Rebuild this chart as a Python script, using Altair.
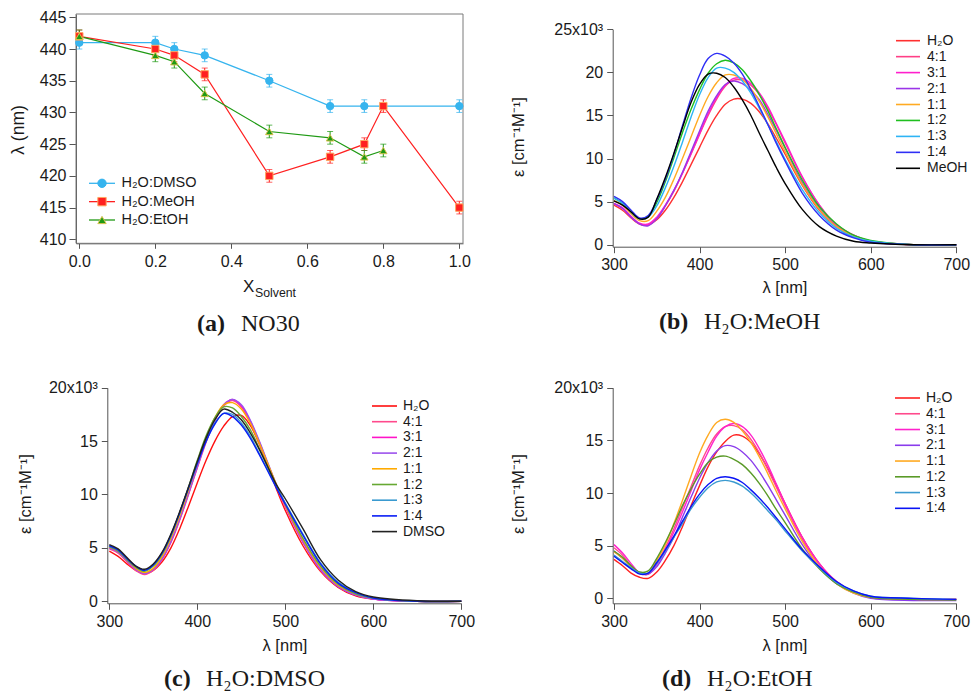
import altair as alt
import pandas as pd

# ---------------------------------------------------------------- data
# (a) absorption maximum of NO30 versus solvent mole fraction
x_dmso = [0.0, 0.2, 0.25, 0.33, 0.5, 0.66, 0.75, 1.0]
lam_dmso = [441, 441, 440, 439, 435, 431, 431, 431]
err_dmso = [1, 1, 1, 1, 1, 1, 1, 1]

x_meoh = [0.0, 0.2, 0.25, 0.33, 0.5, 0.66, 0.75, 0.8, 1.0]
lam_meoh = [442, 440, 439, 436, 420, 423, 425, 431, 415]
err_meoh = [1, 1, 1, 1, 1, 1, 1, 1, 1]

x_etoh = [0.0, 0.2, 0.25, 0.33, 0.5, 0.66, 0.75, 0.8]
lam_etoh = [442, 439, 438, 433, 427, 426, 423, 424]
err_etoh = [1, 1, 1, 1, 1, 1, 1, 1]

mix_names = ["H₂O:DMSO", "H₂O:MeOH", "H₂O:EtOH"]
mix_colors = ["#36b4ee", "#ff2020", "#1f9a14"]
mix_edges = ["#36b4ee", "#ffa860", "#d6c04c"]
mix_shapes = ["circle", "square", "triangle-up"]

# wavelength grid of the spectra (nm); extinction coefficients in 10^3 cm^-1 M^-1
wl = [300, 310, 320, 330, 340, 350, 360, 370, 380, 390, 400, 410, 420, 430,
      440, 450, 460, 470, 480, 490, 500, 520, 540, 560, 580, 600, 650, 700]

# (b) H2O:MeOH
meoh_h2o = [4.6, 4.0, 3.1, 2.4, 2.3, 2.9, 4.0, 5.5, 7.3, 9.3, 11.3, 13.3, 15.0, 16.3,
            16.9, 16.9, 16.4, 15.4, 14.0, 12.3, 10.5, 6.9, 4.0, 2.1, 0.9, 0.4, 0.0, 0.0]
meoh_41 = [4.7, 4.2, 3.2, 2.4, 2.3, 3.1, 4.5, 6.2, 8.3, 10.5, 12.8, 15.0, 16.9, 18.4,
           19.1, 19.1, 18.5, 17.4, 15.8, 13.9, 11.8, 7.8, 4.6, 2.3, 1.1, 0.4, 0.0, 0.0]
meoh_31 = [4.8, 4.3, 3.3, 2.5, 2.4, 3.2, 4.6, 6.3, 8.3, 10.6, 12.9, 15.2, 17.1, 18.5,
           19.3, 19.3, 18.7, 17.6, 16.0, 14.0, 12.0, 7.9, 4.6, 2.3, 1.1, 0.4, 0.0, 0.0]
meoh_21 = [4.8, 4.2, 3.2, 2.4, 2.2, 3.0, 4.5, 6.3, 8.4, 10.8, 13.2, 15.5, 17.3, 18.6,
           19.0, 18.7, 17.9, 16.8, 15.1, 13.2, 11.2, 7.2, 4.2, 2.1, 0.9, 0.3, 0.0, 0.0]
meoh_11 = [5.1, 4.6, 3.6, 2.8, 2.8, 3.9, 5.5, 7.6, 10.0, 12.5, 15.0, 17.2, 18.8, 19.7,
           19.7, 19.2, 18.1, 16.6, 14.8, 12.8, 10.8, 7.0, 4.1, 2.1, 1.0, 0.4, 0.0, 0.0]
meoh_12 = [5.4, 4.8, 3.8, 3.0, 3.3, 4.9, 7.3, 10.1, 13.0, 15.7, 18.0, 19.9, 21.0, 21.4,
           21.1, 20.3, 19.0, 17.4, 15.5, 13.4, 11.3, 7.5, 4.4, 2.4, 1.1, 0.5, 0.0, 0.0]
meoh_13 = [5.4, 4.8, 3.8, 3.0, 3.2, 4.5, 6.6, 9.1, 11.9, 14.8, 17.4, 19.4, 20.5, 20.5,
           20.0, 19.0, 17.6, 15.8, 13.9, 11.9, 9.9, 6.4, 3.7, 1.9, 0.9, 0.4, 0.0, 0.0]
meoh_14 = [5.6, 5.0, 4.0, 3.1, 3.4, 5.2, 7.6, 10.5, 13.8, 17.0, 19.7, 21.6, 22.2, 21.9,
           21.1, 19.8, 18.0, 16.0, 13.9, 11.7, 9.7, 6.0, 3.4, 1.7, 0.8, 0.3, 0.0, 0.0]
meoh_neat = [5.1, 4.6, 3.8, 3.0, 3.2, 5.3, 7.8, 10.6, 13.6, 16.5, 18.6, 19.8, 19.9, 19.4,
             18.3, 16.8, 15.0, 12.9, 10.9, 8.9, 7.1, 4.1, 2.1, 1.0, 0.4, 0.2, 0.0, 0.0]
meoh_labels = ["H₂O", "4:1", "3:1", "2:1", "1:1", "1:2", "1:3", "1:4", "MeOH"]
meoh_colors = ["#ff3030", "#ff3f86", "#ff1fcc", "#9b35e8", "#ffaa22",
               "#1fbf1f", "#2eb4f5", "#2f2ff5", "#000000"]
meoh_series = [meoh_h2o, meoh_41, meoh_31, meoh_21, meoh_11, meoh_12, meoh_13, meoh_14, meoh_neat]

# (c) H2O:DMSO
dmso_h2o = [4.7, 4.2, 3.5, 2.9, 2.6, 2.9, 3.7, 5.0, 6.8, 8.9, 11.1, 13.2, 15.0, 16.4,
            17.3, 17.4, 16.5, 14.8, 12.7, 10.5, 8.5, 5.2, 2.8, 1.3, 0.5, 0.2, 0.0, 0.0]
dmso_41 = [4.9, 4.5, 3.7, 2.9, 2.5, 2.9, 3.9, 5.5, 7.6, 10.0, 12.5, 14.9, 16.9, 18.3,
           18.8, 18.2, 16.8, 14.9, 12.8, 10.7, 8.8, 5.5, 2.9, 1.4, 0.6, 0.2, 0.0, 0.0]
dmso_31 = [5.0, 4.6, 3.8, 3.0, 2.6, 3.0, 4.0, 5.6, 7.7, 10.1, 12.6, 15.0, 17.0, 18.4,
           18.9, 18.3, 16.9, 15.0, 12.9, 10.8, 8.9, 5.6, 3.0, 1.4, 0.6, 0.2, 0.0, 0.0]
dmso_21 = [5.0, 4.6, 3.8, 3.0, 2.6, 3.0, 4.0, 5.6, 7.7, 10.1, 12.6, 15.0, 17.0, 18.4,
           18.9, 18.4, 17.0, 15.1, 13.0, 10.9, 9.0, 5.6, 3.0, 1.4, 0.6, 0.2, 0.0, 0.0]
dmso_11 = [5.1, 4.7, 3.9, 3.1, 2.7, 3.1, 4.2, 5.9, 8.0, 10.4, 12.9, 15.3, 17.2, 18.4,
           18.6, 18.0, 16.7, 14.9, 12.9, 10.9, 9.0, 5.8, 3.2, 1.5, 0.7, 0.3, 0.0, 0.0]
dmso_12 = [5.1, 4.7, 3.9, 3.2, 2.8, 3.3, 4.4, 6.1, 8.3, 10.7, 13.2, 15.5, 17.2, 18.2,
           18.1, 17.3, 16.1, 14.4, 12.6, 10.8, 9.1, 5.9, 3.3, 1.6, 0.7, 0.3, 0.0, 0.0]
dmso_13 = [5.2, 4.8, 4.0, 3.3, 2.9, 3.4, 4.5, 6.2, 8.3, 10.6, 12.9, 15.0, 16.7, 17.6,
           17.5, 16.7, 15.5, 13.9, 12.3, 10.7, 9.2, 6.3, 3.6, 1.8, 0.8, 0.3, 0.0, 0.0]
dmso_14 = [5.2, 4.8, 4.0, 3.3, 2.9, 3.4, 4.5, 6.2, 8.3, 10.6, 12.9, 15.0, 16.6, 17.6,
           17.3, 16.5, 15.3, 13.8, 12.2, 10.6, 9.1, 6.2, 3.5, 1.7, 0.8, 0.3, 0.0, 0.0]
dmso_neat = [5.3, 4.9, 4.1, 3.3, 3.0, 3.5, 4.6, 6.3, 8.4, 10.7, 13.1, 15.3, 17.0, 18.0,
             17.7, 17.0, 15.8, 14.3, 12.6, 10.9, 9.6, 6.8, 3.9, 2.0, 0.9, 0.4, 0.05, 0.0]
dmso_labels = ["H₂O", "4:1", "3:1", "2:1", "1:1", "1:2", "1:3", "1:4", "DMSO"]
dmso_colors = ["#ff1010", "#ff4a8c", "#ff14c8", "#9c52ec", "#ffaa00",
               "#66a832", "#3a9ad0", "#0a1ef5", "#222222"]
dmso_series = [dmso_h2o, dmso_41, dmso_31, dmso_21, dmso_11, dmso_12, dmso_13, dmso_14, dmso_neat]

# (d) H2O:EtOH
etoh_h2o = [3.7, 3.1, 2.4, 2.0, 1.9, 2.5, 3.6, 5.0, 6.8, 8.8, 10.7, 12.5, 13.9, 14.9,
            15.5, 15.4, 14.8, 13.7, 12.3, 10.7, 9.0, 5.8, 3.3, 1.6, 0.6, 0.1, -0.1, -0.1]
etoh_41 = [4.8, 4.1, 3.1, 2.4, 2.3, 3.3, 4.8, 6.6, 8.6, 10.6, 12.6, 14.3, 15.6, 16.3,
           16.4, 16.0, 15.1, 13.8, 12.2, 10.5, 8.8, 5.6, 3.2, 1.5, 0.6, 0.1, -0.1, -0.1]
etoh_31 = [5.1, 4.3, 3.3, 2.4, 2.3, 3.2, 4.6, 6.3, 8.2, 10.2, 12.2, 13.9, 15.4, 16.3,
           16.6, 16.3, 15.5, 14.2, 12.6, 10.8, 9.0, 5.8, 3.3, 1.6, 0.6, 0.1, -0.1, -0.1]
etoh_21 = [4.5, 3.8, 3.0, 2.4, 2.3, 3.0, 4.3, 5.8, 7.7, 9.6, 11.4, 12.9, 14.0, 14.5,
           14.4, 13.9, 13.1, 12.0, 10.7, 9.3, 7.9, 5.1, 2.9, 1.4, 0.5, 0.0, -0.2, -0.2]
etoh_11 = [4.4, 3.8, 3.0, 2.4, 2.4, 3.6, 5.1, 7.1, 9.3, 11.6, 13.8, 15.5, 16.7, 17.0,
           16.7, 15.9, 14.8, 13.4, 11.8, 10.1, 8.5, 5.4, 3.0, 1.4, 0.5, 0.1, -0.1, -0.1]
etoh_12 = [4.5, 3.9, 3.1, 2.5, 2.6, 3.8, 5.3, 7.0, 8.8, 10.4, 11.8, 12.9, 13.4, 13.5,
           13.2, 12.7, 11.9, 10.9, 9.7, 8.4, 7.2, 4.7, 2.8, 1.4, 0.6, 0.1, -0.1, -0.15]
etoh_13 = [4.1, 3.5, 2.9, 2.4, 2.4, 3.3, 4.5, 5.8, 7.1, 8.5, 9.6, 10.5, 11.05, 11.2,
           11.05, 10.65, 10.0, 9.2, 8.3, 7.4, 6.4, 4.5, 2.9, 1.5, 0.7, 0.2, 0.0, -0.1]
etoh_14 = [4.0, 3.4, 2.8, 2.3, 2.4, 3.4, 4.6, 5.9, 7.3, 8.7, 9.9, 10.8, 11.4, 11.55,
           11.4, 11.0, 10.3, 9.5, 8.6, 7.6, 6.6, 4.6, 3.0, 1.6, 0.7, 0.2, 0.0, -0.1]
etoh_labels = ["H₂O", "4:1", "3:1", "2:1", "1:1", "1:2", "1:3", "1:4"]
etoh_colors = ["#ff2222", "#ff4a8c", "#ff22cc", "#8a3cec", "#ffaa22",
               "#5a9a28", "#3a9ad0", "#0a14f5"]
etoh_series = [etoh_h2o, etoh_41, etoh_31, etoh_21, etoh_11, etoh_12, etoh_13, etoh_14]

# ---------------------------------------------------------------- layout
W, H = 972, 693
SANS = "Liberation Sans"
SERIF = "Liberation Serif"
AXIS_GREY = "#555555"
INK = "#1a1a1a"


def axis(orient, offset, values, fmt=None, label_expr=None, tick=6, pad=3):
    kw = dict(orient=orient, offset=offset, values=values, title=None, grid=False,
              tickSize=tick, labelPadding=pad, domainColor=AXIS_GREY, tickColor=AXIS_GREY,
              domainWidth=1, tickWidth=1, labelFont=SANS, labelFontSize=16,
              labelColor=INK, labelFlush=False, labelOverlap=False)
    if fmt:
        kw["format"] = fmt
    if label_expr:
        kw["labelExpr"] = label_expr
    return alt.Axis(**kw)


def text(s, x, y, size, font=SANS, weight="normal", align="left", angle=0, baseline="alphabetic"):
    kw = dict(font=font, fontSize=size, fontWeight=weight, align=align,
              baseline=baseline, color=INK)
    if angle:
        kw["angle"] = angle
    return alt.Chart(pd.DataFrame({"t": [s]})).mark_text(**kw).encode(
        x=alt.value(x), y=alt.value(y), text="t:N")


def spectra_frame(labels, series):
    rows = []
    for lab, vals in zip(labels, series):
        for w, v in zip(wl, vals):
            rows.append({"series": lab, "wl": w, "eps": v})
    return pd.DataFrame(rows)


def spectra_panel(labels, colors, series, xdom, xrng, ydom, yrng, yticks):
    df = spectra_frame(labels, series)
    top = yticks[-1]
    return alt.Chart(df).mark_line(interpolate="catmull-rom", strokeWidth=1.4).encode(
        x=alt.X("wl:Q", scale=alt.Scale(domain=xdom, range=xrng, nice=False, zero=False),
                axis=axis("bottom", yrng[0] - H, [300, 400, 500, 600, 700], pad=4)),
        y=alt.Y("eps:Q", scale=alt.Scale(domain=ydom, range=yrng, nice=False, zero=False),
                axis=axis("left", -xrng[0], yticks, pad=4,
                          label_expr=f"datum.value == {top} ? '{top}x10³' : datum.label")),
        color=alt.Color("series:N", scale=alt.Scale(domain=labels, range=colors), legend=None),
    )


def line_legend(labels, colors, x0, x1, xt, y0, dy, size=14):
    n = len(labels)
    df = pd.DataFrame({"series": labels, "idx": list(range(n))})
    yenc = alt.Y("idx:Q", scale=alt.Scale(domain=[0, n - 1], range=[y0, y0 + (n - 1) * dy]),
                 axis=None)
    col = alt.Color("series:N", scale=alt.Scale(domain=labels, range=colors), legend=None)
    rules = alt.Chart(df).mark_rule(strokeWidth=1.6).encode(
        x=alt.value(x0), x2=alt.value(x1), y=yenc, color=col)
    labs = alt.Chart(df).mark_text(align="left", baseline="middle", font=SANS,
                                   fontSize=size, color=INK).encode(
        x=alt.value(xt), y=yenc, text="series:N")
    return alt.layer(rules, labs)


# ---------------------------------------------------------------- panel (a)
def mix_frame():
    rows = []
    for name, xs, ys, es in zip(mix_names, [x_dmso, x_meoh, x_etoh],
                                [lam_dmso, lam_meoh, lam_etoh], [err_dmso, err_meoh, err_etoh]):
        for x, y, e in zip(xs, ys, es):
            rows.append({"series": name, "x": x, "lam": y, "lo": y - e, "hi": y + e})
    return pd.DataFrame(rows)


mix = mix_frame()
xa = alt.Scale(domain=[-0.0087, 1.0097], range=[76, 463], nice=False, zero=False)
ya = alt.Scale(domain=[409.37, 445.52], range=[243.3, 14], nice=False, zero=False)
col_a = alt.Color("series:N", scale=alt.Scale(domain=mix_names, range=mix_colors), legend=None)
edge_a = alt.Stroke("series:N", scale=alt.Scale(domain=mix_names, range=mix_edges), legend=None)
shape_a = alt.Shape("series:N", scale=alt.Scale(domain=mix_names, range=mix_shapes), legend=None)

frame_a = alt.Chart(pd.DataFrame({"k": [0]})).mark_rect(
    fillOpacity=0, stroke="#7a7a7a", strokeWidth=1).encode(
    x=alt.value(76), x2=alt.value(463), y=alt.value(14), y2=alt.value(243.3))

ax_x_a = alt.X("x:Q", scale=xa, axis=axis("bottom", 243.3 - H, [0, 0.2, 0.4, 0.6, 0.8, 1.0],
                                         fmt=".1f", tick=5, pad=5))
ax_y_a = alt.Y("lam:Q", scale=ya, axis=axis("left", -76, [410, 415, 420, 425, 430, 435, 440, 445],
                                           tick=7, pad=3))

lines_a = alt.Chart(mix).mark_line(strokeWidth=1.2).encode(x=ax_x_a, y=ax_y_a, color=col_a)
bars_a = alt.Chart(mix).mark_rule(strokeWidth=1).encode(
    x="x:Q", y="lo:Q", y2="hi:Q", color=col_a)
cap_lo = alt.Chart(mix).mark_tick(orient="horizontal", size=6, thickness=1).encode(
    x="x:Q", y="lo:Q", color=col_a)
cap_hi = alt.Chart(mix).mark_tick(orient="horizontal", size=6, thickness=1).encode(
    x="x:Q", y="hi:Q", color=col_a)
pts_a = alt.Chart(mix).mark_point(filled=True, size=55, strokeWidth=1, opacity=1).encode(
    x="x:Q", y="lam:Q", color=col_a, stroke=edge_a, shape=shape_a)
panel_a = alt.layer(lines_a, bars_a, cap_lo, cap_hi, pts_a)

leg_df = pd.DataFrame({"series": mix_names, "idx": [0, 1, 2]})
leg_y = alt.Y("idx:Q", scale=alt.Scale(domain=[0, 2], range=[183.3, 220]), axis=None)
leg_a = alt.layer(
    alt.Chart(leg_df).mark_rule(strokeWidth=1.3).encode(
        x=alt.value(89), x2=alt.value(115), y=leg_y, color=col_a),
    alt.Chart(leg_df).mark_point(filled=True, size=70, strokeWidth=1, opacity=1).encode(
        x=alt.value(102), y=leg_y, color=col_a, stroke=edge_a, shape=shape_a),
    alt.Chart(leg_df).mark_text(align="left", baseline="middle", font=SANS, fontSize=14.5,
                                color=INK).encode(x=alt.value(121.5), y=leg_y, text="series:N"),
)

# ---------------------------------------------------------------- panels (b)-(d)
panel_b = spectra_panel(meoh_labels, meoh_colors, meoh_series, [298.5, 700], [612.7, 956.3],
                        [-0.23, 25], [246.7, 29.3], [0, 5, 10, 15, 20, 25])
panel_c = spectra_panel(dmso_labels, dmso_colors, dmso_series, [297.7, 700], [107.3, 461.3],
                        [-0.19, 20], [603.3, 387.7], [0, 5, 10, 15, 20])
panel_d = spectra_panel(etoh_labels, etoh_colors, etoh_series, [298.5, 700], [612.7, 956.3],
                        [-0.47, 20], [603.3, 387.7], [0, 5, 10, 15, 20])

leg_b = line_legend(meoh_labels, meoh_colors, 896, 920, 927, 40.7, 15.95)
leg_c = line_legend(dmso_labels, dmso_colors, 372, 397, 403, 406, 15.7)
leg_d = line_legend(etoh_labels, etoh_colors, 895, 920, 926, 398, 15.76)

# ---------------------------------------------------------------- titles and captions
eps_title = "ε [cm⁻¹M⁻¹]"
lam_title = "λ [nm]"
texts = [
    text("λ (nm)", 24, 130, 17.5, align="center", angle=270),
    text("X", 243, 291.5, 17),
    text("Solvent", 255, 296.5, 12.3),
    text("(a)", 197, 330.5, 24, font=SERIF, weight="bold"),
    text("NO30", 241, 330.5, 24, font=SERIF),
    text(eps_title, 524, 137, 16.5, align="center", angle=270),
    text(lam_title, 785, 293, 16.5, align="center"),
    text("(b)", 659, 328.5, 24, font=SERIF, weight="bold"),
    text("H₂O:MeOH", 704, 328.5, 24, font=SERIF),
    text(eps_title, 31, 494, 16.5, align="center", angle=270),
    text(lam_title, 285, 651, 16.5, align="center"),
    text("(c)", 164, 686, 24, font=SERIF, weight="bold"),
    text("H₂O:DMSO", 206, 686, 24, font=SERIF),
    text(eps_title, 524, 494, 16.5, align="center", angle=270),
    text(lam_title, 785, 651, 16.5, align="center"),
    text("(d)", 662, 686, 24, font=SERIF, weight="bold"),
    text("H₂O:EtOH", 707, 686, 24, font=SERIF),
]

chart = alt.layer(
    frame_a, panel_a, leg_a, panel_b, leg_b, panel_c, leg_c, panel_d, leg_d, *texts
).resolve_scale(
    x="independent", y="independent", color="independent",
    stroke="independent", shape="independent"
).properties(
    width=W, height=H, padding=0, background="white",
    autosize=alt.AutoSizeParams(type="none"),
).configure_view(strokeWidth=0)

chart.save("out.html", embed_options={"renderer": "svg", "actions": False})
